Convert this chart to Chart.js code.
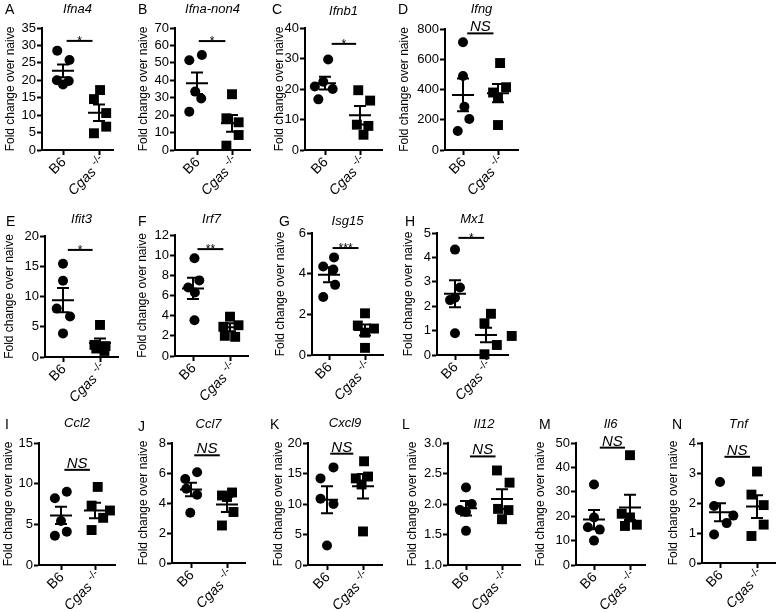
<!DOCTYPE html>
<html>
<head>
<meta charset="utf-8">
<script src="https://cdn.jsdelivr.net/npm/chart.js@4.4.1/dist/chart.umd.min.js"></script>
<style>
  body { margin: 0; background: #fff; }
  #fig { position: relative; width: 777px; height: 612px; overflow: hidden; background: #fff;
         font-family: "Liberation Sans", Arial, Helvetica, sans-serif; }
  #fig canvas { position: absolute; }
  .letter { position: absolute; font-size: 14px; line-height: 1; color: #000; }
</style>
</head>
<body>
<div id="fig"></div>
<script>
const letters = ['A', 'B', 'C', 'D', 'E', 'F', 'G', 'H', 'I', 'J', 'K', 'L', 'M', 'N'];
const genes = ['Ifna4', 'Ifna-non4', 'Ifnb1', 'Ifng', 'Ifit3', 'Irf7', 'Isg15', 'Mx1',
               'Ccl2', 'Ccl7', 'Cxcl9', 'Il12', 'Il6', 'Tnf'];
const groups = ['B6', 'Cgas'];
const koMark = '-/-';
const yTitle = 'Fold change over naive';

const yMin = [0, 0, 0, 0, 0, 0, 0, 0, 0, 0, 0, 1, 0, 0];
const yMax = [35, 70, 40, 800, 20, 12, 6, 5, 15, 8, 20, 3, 50, 4];
const yStep = [5, 10, 10, 200, 5, 2, 2, 1, 5, 2, 5, 0.5, 10, 1];
const yDecimals = [0, 0, 0, 0, 0, 0, 0, 0, 0, 0, 0, 1, 0, 0];

const b6Values = [
  [28.5, 25.8, 20.0, 18.8, 19.8],
  [51.5, 54.5, 33.5, 29.5, 22],
  [29.7, 22.4, 20.8, 20.0, 16.6],
  [712, 489, 286, 205, 126],
  [15.4, 12.6, 8.0, 6.7, 3.9],
  [9.7, 7.5, 6.8, 6.3, 3.55],
  [4.8, 4.35, 4.2, 3.45, 2.85],
  [4.32, 2.77, 2.35, 2.25, 0.89],
  [9.0, 8.2, 5.4, 4.1, 3.6],
  [6.05, 5.6, 4.95, 4.55, 3.35],
  [16.0, 14.2, 10.85, 10.0, 3.2],
  [2.27, 2.0, 1.9, 1.87, 1.56],
  [33, 19.5, 15.5, 14.5, 10],
  [2.7, 1.9, 1.58, 1.33, 0.95]
];
const b6Jitter = [
  [-0.16, 0.18, -0.17, 0.0, 0.16],
  [-0.22, 0.14, -0.05, 0.12, -0.22],
  [0.09, -0.05, -0.29, 0.22, -0.19],
  [0, 0, 0.04, 0.18, -0.15],
  [0, 0, -0.17, 0.19, 0],
  [0.04, 0.17, -0.13, 0.05, 0.04],
  [0.14, -0.16, 0.12, 0.17, -0.16],
  [0, 0.16, 0, -0.16, 0],
  [0.17, -0.18, 0, 0.17, -0.18],
  [0.17, -0.16, -0.13, 0.17, -0.02],
  [0.18, -0.18, -0.18, 0.18, 0],
  [0, 0.16, -0.17, 0, 0],
  [0, 0, -0.17, 0.16, 0],
  [0, -0.16, 0.36, 0.18, -0.16]
];
const cgasValues = [
  [17.2, 14.6, 10.6, 6.7, 4.8],
  [32, 18.2, 15.9, 8.6, 2.5],
  [19.6, 16.2, 8.3, 7.9, 5.0],
  [575, 415, 380, 345, 165],
  [5.3, 2.0, 1.8, 1.4, 1.0],
  [3.9, 3.05, 2.9, 2.0, 1.9],
  [2.05, 1.45, 1.3, 1.1, 0.35],
  [1.69, 1.3, 0.78, 0.41, 0.03],
  [9.6, 7.3, 6.7, 5.8, 4.3],
  [4.7, 4.5, 4.4, 3.4, 2.5],
  [17.0, 14.5, 14.2, 13.2, 5.5],
  [2.55, 2.35, 1.92, 1.9, 1.75],
  [45, 21, 19.5, 16.5, 16],
  [3.05, 2.28, 1.93, 1.28, 0.9]
];
const cgasJitter = [
  [0.03, -0.14, 0.2, 0.2, -0.14],
  [0, -0.16, 0.19, 0.19, -0.16],
  [-0.05, 0.29, -0.09, 0.24, 0.1],
  [0.06, 0.23, -0.14, 0, 0],
  [0, -0.15, 0.15, -0.1, 0.12],
  [0, 0.23, -0.18, -0.14, 0.14],
  [0, -0.2, 0.25, 0, 0],
  [0.16, -0.05, 0.83, 0.35, -0.05],
  [0.08, -0.1, 0.44, 0.24, -0.1],
  [0.14, -0.14, 0, 0.18, -0.14],
  [0.03, 0.14, -0.2, -0.04, 0],
  [-0.14, 0.21, -0.11, 0.18, 0],
  [0, -0.23, 0, 0.19, -0.14],
  [0, -0.15, 0.18, 0.18, -0.15]
];
const b6Mean = [22.7, 38.3, 21.9, 364, 9.4, 6.7, 3.95, 2.51, 6.1, 4.9, 10.7, 1.93, 18.6, 1.69];
const b6Sem = [1.8, 6.2, 2.1, 108, 2.0, 1.05, 0.37, 0.55, 1.05, 0.45, 2.2, 0.12, 3.9, 0.3];
const cgasMean = [10.7, 15.3, 11.4, 376, 2.3, 2.85, 1.23, 0.82, 6.7, 3.9, 12.9, 2.08, 23.6, 1.88];
const cgasSem = [2.35, 4.8, 3.0, 60, 0.75, 0.4, 0.27, 0.3, 0.95, 0.5, 2.0, 0.16, 5.2, 0.38];
const sigText = ['*', '*', '*', 'NS', '*', '**', '***', '*', 'NS', 'NS', 'NS', 'NS', 'NS', 'NS'];
const sigLevel = [31.3, 62.5, 34.8, 771, 17.7, 10.6, 5.26, 4.8, 11.7, 7.18, 18.25, 2.78, 48.1, 3.54];

// layout (page px): plot left, right, top, bottom, B6 x, Cgas x, y-title offset, gene title y
const frames = [
  [42, 113, 28, 150, 63, 99, 32, 9],
  [175, 250, 28, 150, 197, 232, 32, 9],
  [305, 382, 28, 150, 325, 360, 26, 11],
  [445, 518, 29, 150, 463, 498, 41, 9],
  [45, 118, 236, 357, 63, 100, 36, 219],
  [175, 248, 235, 356, 193, 230, 33, 219],
  [312, 383, 233, 355, 329, 365, 32, 221],
  [437, 508, 233, 355, 455, 486, 29, 219],
  [39, 115, 443, 565, 61, 95, 31, 423],
  [172, 245, 443, 563, 191, 227, 29, 424],
  [308, 382, 443, 565, 327, 363, 30, 423],
  [448, 520, 443, 565, 466, 502, 36, 424],
  [576, 645, 443, 565, 594, 630, 36, 424],
  [702, 775, 443, 563, 720, 757, 29, 424]
];
const letterPos = [[5, 2], [138, 2], [272, 2], [398, 2], [6, 214], [138, 214], [279, 214], [405, 214],
                   [5, 417], [138, 419], [270, 417], [402, 417], [539, 417], [672, 417]];
const bracketEnds = [[0.1, 0.82], [0.05, 0.81], [0.19, 0.89], [0.12, 0.87], [0.13, 0.8], [0.12, 0.82],
                     [0.1, 0.82], [0.11, 0.94], [0.1, 0.85], [0.09, 0.8], [0.09, 0.73], [0.11, 0.82],
                     [0.16, 0.86], [0.12, 0.81]];

const fontFamily = '"Liberation Sans", Arial, Helvetica, sans-serif';
Chart.defaults.font.family = fontFamily;
Chart.defaults.color = '#000';

const TITLE_LH = 13 * 1.2;
const YTITLE_LH = 12 * 1.2;
const PAD_R = 16;
const X_H = 60;
const MEAN_HALF_PX = 11;
const CAP_HALF_PX = 6;

// rotated group labels under the x axis
const xLabelPlugin = {
  id: 'xlabels',
  afterDraw(chart) {
    const ctx = chart.ctx;
    const xs = chart.scales.x;
    const y0 = xs.top + 10;
    ctx.save();
    ctx.fillStyle = '#000';
    ctx.textAlign = 'right';
    ctx.textBaseline = 'middle';

    ctx.save();
    ctx.translate(xs.getPixelForValue(0) + 1, y0);
    ctx.rotate(-Math.PI / 4);
    ctx.font = '14px ' + fontFamily;
    ctx.fillText(groups[0], 0, 0);
    ctx.restore();

    ctx.save();
    ctx.translate(xs.getPixelForValue(1) + 5, y0);
    ctx.rotate(-Math.PI / 4);
    ctx.font = '11px ' + fontFamily;
    ctx.fillText(koMark, 0, -5);
    const w = ctx.measureText(koMark).width;
    ctx.font = 'italic 14px ' + fontFamily;
    ctx.fillText(groups[1] + ' ', -w, 0);
    ctx.restore();

    ctx.restore();
  }
};

// significance text above the bracket
const sigPlugin = {
  id: 'sig',
  afterDraw(chart, args, opts) {
    const ctx = chart.ctx;
    const xs = chart.scales.x, ys = chart.scales.y;
    const x = (xs.getPixelForValue(opts.from) + xs.getPixelForValue(opts.to)) / 2;
    const y = ys.getPixelForValue(opts.level);
    ctx.save();
    ctx.fillStyle = '#000';
    ctx.textAlign = 'center';
    ctx.textBaseline = 'alphabetic';
    if (opts.text === 'NS') {
      ctx.font = 'italic 15px ' + fontFamily;
      ctx.fillText(opts.text, x, y - 2);
    } else {
      ctx.font = '12px ' + fontFamily;
      ctx.fillText(opts.text, x, y + 4);
    }
    ctx.restore();
  }
};

const fig = document.getElementById('fig');

function statLines(c, m, s, meanHalf, capHalf) {
  const gap = {x: null, y: null};
  return [
    {x: c - meanHalf, y: m}, {x: c + meanHalf, y: m}, gap,
    {x: c, y: m - s}, {x: c, y: m + s}, gap,
    {x: c - capHalf, y: m + s}, {x: c + capHalf, y: m + s}, gap,
    {x: c - capHalf, y: m - s}, {x: c + capHalf, y: m - s}
  ];
}

letters.forEach((letter, i) => {
  const [L, R, T, B, p0, p1, gapTitle, geneY] = frames[i];
  const unit = p1 - p0;
  const left = Math.round(L - gapTitle - YTITLE_LH / 2);
  const top = Math.floor(geneY - TITLE_LH / 2);
  const padTop = geneY - TITLE_LH / 2 - top;
  const padBottom = T - top - padTop - TITLE_LH;
  const yW = L - left;
  const width = R - left + PAD_R;
  const height = B - top + X_H;

  const canvas = document.createElement('canvas');
  canvas.width = width;
  canvas.height = height;
  canvas.style.left = left + 'px';
  canvas.style.top = top + 'px';
  canvas.style.width = width + 'px';
  canvas.style.height = height + 'px';
  fig.appendChild(canvas);

  const lab = document.createElement('div');
  lab.className = 'letter';
  lab.style.left = letterPos[i][0] + 'px';
  lab.style.top = letterPos[i][1] + 'px';
  lab.textContent = letter;
  fig.appendChild(lab);

  const meanHalf = MEAN_HALF_PX / unit;
  const capHalf = CAP_HALF_PX / unit;
  const lineStyle = {showLine: true, borderColor: '#000', borderWidth: 2, pointRadius: 0,
                     spanGaps: false, clip: false};

  new Chart(canvas, {
    type: 'scatter',
    data: {
      datasets: [
        Object.assign({data: [{x: bracketEnds[i][0], y: sigLevel[i]}, {x: bracketEnds[i][1], y: sigLevel[i]}]}, lineStyle),
        Object.assign({data: statLines(0, b6Mean[i], b6Sem[i], meanHalf, capHalf)}, lineStyle),
        Object.assign({data: statLines(1, cgasMean[i], cgasSem[i], meanHalf, capHalf)}, lineStyle),
        {
          data: b6Values[i].map((v, k) => ({x: b6Jitter[i][k], y: v})),
          pointStyle: 'circle', pointRadius: 5, pointBackgroundColor: '#000',
          pointBorderWidth: 0, showLine: false, clip: false
        },
        {
          data: cgasValues[i].map((v, k) => ({x: 1 + cgasJitter[i][k], y: v})),
          pointStyle: 'rect', pointRadius: 7, pointBackgroundColor: '#000',
          pointBorderWidth: 0, showLine: false, clip: false
        }
      ]
    },
    options: {
      responsive: false,
      animation: false,
      events: [],
      layout: {padding: {left: 0, top: 0, right: PAD_R, bottom: 0}},
      plugins: {
        legend: {display: false},
        tooltip: {enabled: false},
        title: {
          display: true, text: genes[i], fullSize: false, color: '#000',
          font: {size: 13, style: 'italic', weight: 'normal', lineHeight: 1.2},
          padding: {top: padTop, bottom: padBottom}
        },
        sig: {text: sigText[i], level: sigLevel[i], from: bracketEnds[i][0], to: bracketEnds[i][1]}
      },
      scales: {
        x: {
          type: 'linear',
          min: (L - p0) / unit,
          max: (R - p0) / unit,
          afterBuildTicks: s => { s.ticks = [{value: 0}, {value: 1}]; },
          afterFit: s => { s.height = X_H; },
          ticks: {display: false},
          grid: {drawOnChartArea: false, drawTicks: true, tickLength: 5, tickWidth: 2, tickColor: '#000', color: '#000'},
          border: {display: true, color: '#000', width: 2}
        },
        y: {
          min: yMin[i],
          max: yMax[i],
          afterFit: s => { s.width = yW; },
          ticks: {
            stepSize: yStep[i], autoSkip: false, padding: 1, color: '#000',
            font: {size: 13},
            callback: v => Number(v).toFixed(yDecimals[i])
          },
          title: {
            display: true, text: yTitle, color: '#000',
            font: {size: 12, lineHeight: 1.2}, padding: 0
          },
          grid: {drawOnChartArea: false, drawTicks: true, tickLength: 5, tickWidth: 2, tickColor: '#000', color: '#000'},
          border: {display: true, color: '#000', width: 2}
        }
      }
    },
    plugins: [xLabelPlugin, sigPlugin]
  });
});
</script>
</body>
</html>
